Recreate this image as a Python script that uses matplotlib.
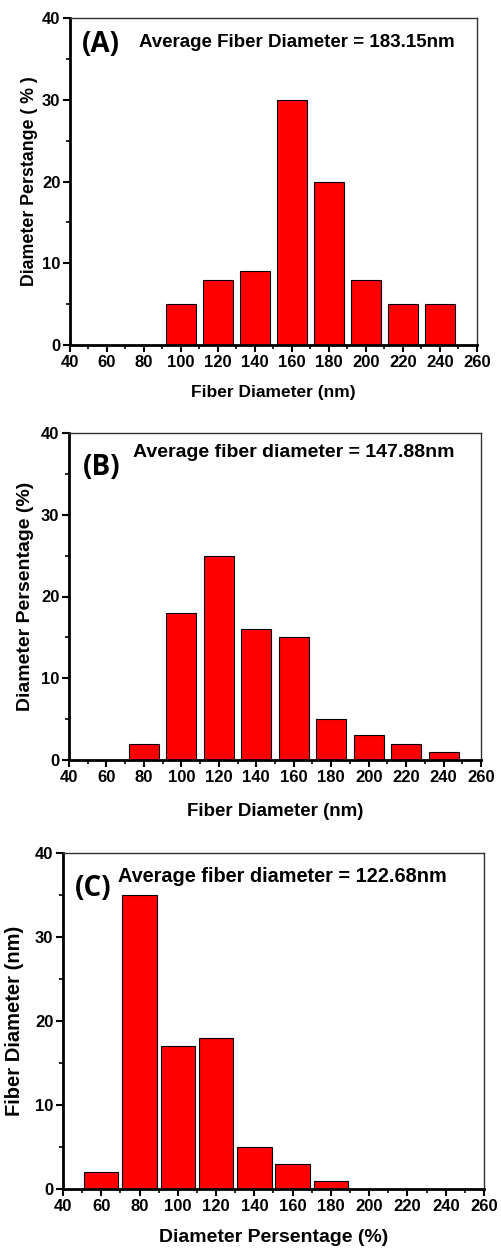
import numpy as np
import matplotlib
matplotlib.use("Agg")
import matplotlib.pyplot as plt
from matplotlib.ticker import MultipleLocator

plt.rcParams['font.family'] = ['Liberation Sans', 'DejaVu Sans']
plt.rcParams['font.weight'] = 'bold'

# data
binsA = [100, 120, 140, 160, 180, 200, 220, 240]
pctA = [5, 8, 9, 30, 20, 8, 5, 5]

binsB = [80, 100, 120, 140, 160, 180, 200, 220, 240]
pctB = [2, 18, 25, 16, 15, 5, 3, 2, 1]

binsC = [60, 80, 100, 120, 140, 160, 180]
pctC = [2, 35, 17, 18, 5, 3, 1]

W, H = 502, 1252
fig = plt.figure(figsize=(W / 100, H / 100), dpi=100)


def box(l, r, t, b):
    return [l / W, 1 - b / H, (r - l) / W, (b - t) / H]


panels = [
    dict(rect=box(70, 477, 18, 345), x=binsA, y=pctA, w=16, tag="(A)",
         note="Average Fiber Diameter = 183.15nm", nfs=13.5,
         xl="Fiber Diameter (nm)", yl="Diameter Perstange ( % )",
         xfs=12.5, yfs=12.8,
         tagpos=(0.03, 0.92), notepos=(0.17, 0.925), ypad=3, xpad=11),
    dict(rect=box(69, 481, 433, 760), x=binsB, y=pctB, w=16, tag="(B)",
         note="Average fiber diameter = 147.88nm", nfs=14,
         xl="Fiber Diameter (nm)", yl="Diameter Persentage (%)",
         xfs=13.5, yfs=14,
         tagpos=(0.034, 0.893), notepos=(0.155, 0.94), ypad=5, xpad=13),
    dict(rect=box(63, 484, 853, 1189), x=binsC, y=pctC, w=18, tag="(C)",
         note="Average fiber diameter = 122.68nm", nfs=14.3,
         xl="Diameter Persentage (%)", yl="Fiber Diameter (nm)",
         xfs=14, yfs=14.5,
         tagpos=(0.029, 0.893), notepos=(0.13, 0.93), ypad=8, xpad=11),
]

for p in panels:
    ax = fig.add_axes(p["rect"])
    ax.bar(p["x"], p["y"], width=p["w"], color="#ff0000",
           edgecolor="black", linewidth=0.8, zorder=2)
    ax.set_xlim(40, 260)
    ax.set_ylim(0, 40)
    ax.xaxis.set_major_locator(MultipleLocator(20))
    ax.xaxis.set_minor_locator(MultipleLocator(10))
    ax.yaxis.set_major_locator(MultipleLocator(10))
    ax.yaxis.set_minor_locator(MultipleLocator(5))
    ax.tick_params(which="major", direction="out", length=5, width=1.5,
                   labelsize=12, pad=2)
    ax.tick_params(which="minor", direction="out", length=3, width=1.2)
    for s in ["left", "bottom"]:
        ax.spines[s].set_linewidth(2)
    for s in ["top", "right"]:
        ax.spines[s].set_linewidth(1)
        ax.spines[s].set_color("#333333")
    for lab in ax.get_xticklabels() + ax.get_yticklabels():
        lab.set_fontweight("bold")
    ax.set_xlabel(p["xl"], fontsize=p["xfs"], fontweight="bold", labelpad=p["xpad"])
    ax.set_ylabel(p["yl"], fontsize=p["yfs"], fontweight="bold", labelpad=p["ypad"])
    ax.text(p["tagpos"][0], p["tagpos"][1], p["tag"], transform=ax.transAxes,
            fontsize=20, fontweight="bold", family="Open Sans", va="center")
    ax.text(p["notepos"][0], p["notepos"][1], p["note"], transform=ax.transAxes,
            fontsize=p["nfs"], fontweight="bold", va="center")

fig.savefig("out.png", dpi=100)
